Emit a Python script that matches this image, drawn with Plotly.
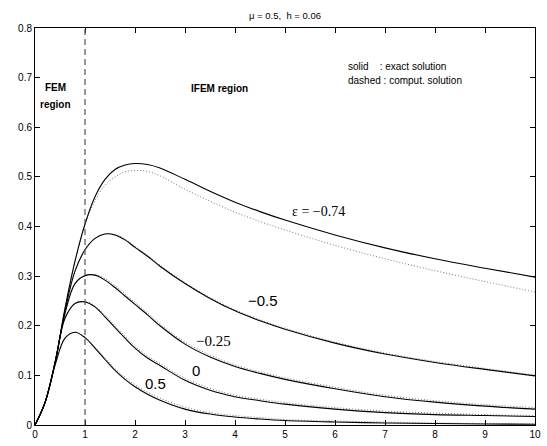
import plotly.graph_objects as go

x_vals = [0, 0.2, 0.4, 0.6, 0.8, 1.0, 1.2, 1.4, 1.6, 1.8, 2.0, 2.25, 2.5, 3, 3.5, 4, 4.5, 5, 6, 7, 8, 9, 10]

exact_m074 = [0, 0.045, 0.125, 0.235, 0.33, 0.405, 0.46, 0.495, 0.515, 0.524, 0.527, 0.525, 0.518, 0.495, 0.471, 0.449, 0.43, 0.413, 0.383, 0.357, 0.335, 0.316, 0.298]
comp_m074 = [0, 0.045, 0.125, 0.235, 0.33, 0.403, 0.452, 0.483, 0.5, 0.51, 0.513, 0.511, 0.502, 0.475, 0.451, 0.429, 0.41, 0.393, 0.362, 0.335, 0.311, 0.289, 0.268]

exact_m05 = [0, 0.045, 0.125, 0.23, 0.31, 0.353, 0.376, 0.385, 0.383, 0.373, 0.358, 0.34, 0.32, 0.285, 0.255, 0.23, 0.21, 0.193, 0.165, 0.143, 0.126, 0.112, 0.099]
comp_m05 = [0, 0.045, 0.125, 0.23, 0.31, 0.353, 0.376, 0.385, 0.384, 0.375, 0.36, 0.342, 0.322, 0.287, 0.257, 0.232, 0.212, 0.195, 0.167, 0.145, 0.128, 0.114, 0.101]

exact_m025 = [0, 0.045, 0.125, 0.225, 0.285, 0.301, 0.302, 0.292, 0.277, 0.26, 0.243, 0.222, 0.2, 0.163, 0.137, 0.118, 0.104, 0.092, 0.073, 0.057, 0.046, 0.038, 0.032]
comp_m025 = [0, 0.045, 0.125, 0.225, 0.285, 0.301, 0.303, 0.295, 0.281, 0.264, 0.247, 0.226, 0.204, 0.167, 0.141, 0.121, 0.107, 0.095, 0.076, 0.06, 0.049, 0.041, 0.035]

exact_0 = [0, 0.045, 0.125, 0.215, 0.245, 0.248, 0.238, 0.218, 0.196, 0.175, 0.155, 0.135, 0.12, 0.09, 0.07, 0.057, 0.049, 0.042, 0.032, 0.025, 0.021, 0.019, 0.017]
comp_0 = [0, 0.045, 0.125, 0.215, 0.245, 0.249, 0.24, 0.221, 0.2, 0.179, 0.159, 0.139, 0.124, 0.094, 0.074, 0.06, 0.052, 0.045, 0.035, 0.028, 0.024, 0.021, 0.019]

exact_05 = [0, 0.045, 0.12, 0.175, 0.187, 0.176, 0.155, 0.132, 0.11, 0.092, 0.077, 0.062, 0.05, 0.032, 0.022, 0.016, 0.012, 0.009, 0.006, 0.004, 0.003, 0.002, 0.0015]
comp_05 = [0, 0.045, 0.12, 0.175, 0.187, 0.177, 0.157, 0.135, 0.114, 0.096, 0.081, 0.066, 0.054, 0.036, 0.025, 0.019, 0.015, 0.011, 0.008, 0.006, 0.004, 0.003, 0.002]

exact_series = [exact_m074, exact_m05, exact_m025, exact_0, exact_05]
comp_series = [comp_m074, comp_m05, comp_m025, comp_0, comp_05]

x_ticks = [0, 1, 2, 3, 4, 5, 6, 7, 8, 9, 10]
y_ticks = [0, 0.1, 0.2, 0.3, 0.4, 0.5, 0.6, 0.7, 0.8]
y_tick_text = ["0", "0.1", "0.2", "0.3", "0.4", "0.5", "0.6", "0.7", "0.8"]

# curve labels: (text, x, y, font family, size)
curve_labels = [
    ("\u03b5 = \u22120.74", 5.67, 0.43, "Liberation Serif", 14),
    ("\u22120.5", 4.55, 0.25, "Liberation Sans", 15),
    ("\u22120.25", 3.56, 0.169, "Liberation Serif", 15),
    ("0", 3.21, 0.109, "Liberation Sans", 15),
    ("0.5", 2.40, 0.083, "Liberation Sans", 15),
]

fig = go.Figure()

for ys in comp_series:
    fig.add_trace(go.Scatter(x=x_vals, y=ys, mode="lines", line=dict(color="#777777", width=1, dash="1px,2px", shape="spline", smoothing=1.0), showlegend=False, hoverinfo="skip"))
for ys in exact_series:
    fig.add_trace(go.Scatter(x=x_vals, y=ys, mode="lines", line=dict(color="black", width=1.1, shape="spline", smoothing=1.0), showlegend=False, hoverinfo="skip"))

fig.add_shape(type="line", x0=1, x1=1, y0=0, y1=0.8, xref="x", yref="y",
              line=dict(color="#555555", width=1.2, dash="6px,4px"))

for text, xx, yy, fam, sz in curve_labels:
    fig.add_annotation(x=xx, y=yy, text=text, showarrow=False, xanchor="center", yanchor="middle",
                       font=dict(family=fam, size=sz, color="black"))

fig.add_annotation(x=0.4, y=0.681, text="<b>FEM</b>", showarrow=False, font=dict(family="Liberation Sans", size=10, color="black"))
fig.add_annotation(x=0.4, y=0.645, text="<b>region</b>", showarrow=False, font=dict(family="Liberation Sans", size=10, color="black"))
fig.add_annotation(x=3.69, y=0.679, text="<b>IFEM region</b>", showarrow=False, font=dict(family="Liberation Sans", size=10, color="black"))
fig.add_annotation(x=6.21, y=0.723, text="solid\u00a0\u00a0\u00a0\u00a0: exact solution", showarrow=False, xanchor="left",
                   font=dict(family="Liberation Sans", size=10, color="black"))
fig.add_annotation(x=6.21, y=0.695, text="dashed : comput. solution", showarrow=False, xanchor="left",
                   font=dict(family="Liberation Sans", size=10, color="black"))

fig.add_annotation(x=0.5, y=1.0325, xref="paper", yref="paper", text="\u03bc = 0.5,\u00a0\u00a0h = 0.06", showarrow=False,
                   yanchor="middle", font=dict(family="Liberation Sans", size=9.5, color="black"))

axis_common = dict(showline=True, linecolor="black", linewidth=1, mirror="ticks", ticks="inside", ticklen=5,
                   tickcolor="black", showgrid=False, zeroline=False, ticklabeloverflow="allow",
                   tickfont=dict(family="Liberation Sans", size=10, color="black"))

fig.update_xaxes(range=[0, 10], tickvals=x_ticks, ticktext=[str(t) for t in x_ticks], **axis_common)
fig.update_yaxes(range=[0, 0.8], tickvals=y_ticks, ticktext=y_tick_text, **axis_common)

fig.update_layout(width=547, height=446, margin=dict(l=35, r=6, t=28, b=19),
                  plot_bgcolor="white", paper_bgcolor="white", showlegend=False, hovermode=False)

fig.write_html("out.html", config={"displayModeBar": False, "staticPlot": True},
               post_script="document.body.style.margin='0';document.body.style.overflow='hidden';")
